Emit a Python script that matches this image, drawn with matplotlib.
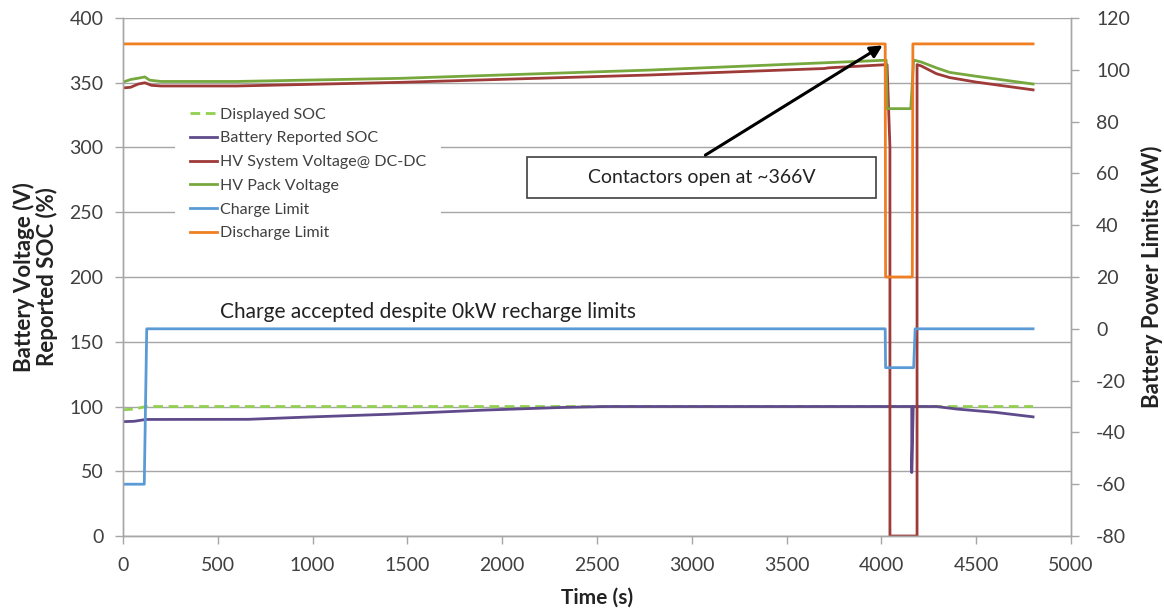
import matplotlib
matplotlib.use("Agg")
import matplotlib.pyplot as plt
from matplotlib.patches import Rectangle

plt.rcParams['font.family'] = ['Lato', 'DejaVu Sans']
plt.rcParams['axes.unicode_minus'] = False

# ---- data ----
# left axis: voltage / SOC
soc_disp_t = [0, 60, 120, 4800]
soc_disp_v = [97.5, 98, 100, 100]

soc_batt_t = [0, 60, 120, 660, 1000, 1400, 1900, 2300, 2550, 4160, 4160, 4168, 4290, 4400, 4600, 4800]
soc_batt_v = [88.3, 88.6, 90, 90.1, 92, 94, 97.2, 99.2, 100, 100, 49, 100, 100, 98, 95.5, 92]

hv_sys_t = [0, 40, 80, 115, 150, 200, 600, 1461, 2780, 3700, 3720, 4030, 4045, 4045, 4188, 4188, 4210, 4290, 4360, 4500, 4650, 4800]
hv_sys_v = [346, 346.5, 349, 350, 348, 347.5, 347.5, 350.3, 356, 361, 361.5, 364, 300, 0, 0, 364, 363, 357, 354, 350.5, 347.5, 344.5]

hv_pack_t = [0, 40, 80, 115, 140, 200, 600, 1461, 2780, 4008, 4025, 4030, 4155, 4170, 4210, 4290, 4360, 4500, 4650, 4800]
hv_pack_v = [350.5, 352.5, 353.5, 354.5, 352, 351, 351, 353.4, 359.8, 367.3, 367.5, 330, 330, 367.5, 366, 361.5, 358, 355, 352, 349]

# right axis: power limits (kW)
chg_t = [0, 112, 125, 4020, 4022, 4170, 4178, 4800]
chg_v = [-60, -60, 0, 0, -15, -15, 0, 0]

dis_t = [0, 4020, 4022, 4163, 4166, 4800]
dis_v = [110, 110, 20, 20, 110, 110]

x_ticks = [0, 500, 1000, 1500, 2000, 2500, 3000, 3500, 4000, 4500, 5000]
left_ticks = [0, 50, 100, 150, 200, 250, 300, 350, 400]
right_ticks = [-80, -60, -40, -20, 0, 20, 40, 60, 80, 100, 120]

c_disp = '#92D050'
c_batt = '#5F4B8B'
c_sys = '#9E3A38'
c_pack = '#77A83E'
c_chg = '#5B9BD5'
c_dis = '#F07F22'
c_axis = '#A6A6A6'
c_text = '#404040'

fig = plt.figure(figsize=(11.64, 6.10), dpi=100)
ax = fig.add_axes([0.1057, 0.1213, 0.8144, 0.8492])
ax2 = ax.twinx()

lw = 2.0
ax.plot(soc_disp_t, soc_disp_v, color=c_disp, lw=lw, ls=(0, (3.5, 2)), label='Displayed SOC')
ax.plot(soc_batt_t, soc_batt_v, color=c_batt, lw=lw, label='Battery Reported SOC')
ax.plot(hv_sys_t, hv_sys_v, color=c_sys, lw=lw, label='HV System Voltage@ DC-DC')
ax.plot(hv_pack_t, hv_pack_v, color=c_pack, lw=lw, label='HV Pack Voltage')
ax2.plot(chg_t, chg_v, color=c_chg, lw=lw, label='Charge Limit')
ax2.plot(dis_t, dis_v, color=c_dis, lw=lw, label='Discharge Limit')

ax.set_xlim(0, 5000)
ax.set_ylim(0, 400)
ax2.set_ylim(-80, 120)
ax.set_xticks(x_ticks)
ax.set_yticks(left_ticks)
ax2.set_yticks(right_ticks)

ax.grid(axis='y', color=c_axis, lw=1)
ax.set_axisbelow(True)

for a in (ax, ax2):
    a.spines['top'].set_visible(False)
    for s in ('left', 'right', 'bottom'):
        a.spines[s].set_color(c_axis)
        a.spines[s].set_linewidth(1)
    a.tick_params(colors=c_axis, labelcolor=c_text, labelsize=14, length=6, width=1)
ax.tick_params(axis='x', pad=9)
ax.tick_params(axis='y', pad=8)
ax2.tick_params(axis='y', pad=12)

ax.set_xlabel('Time (s)', fontsize=15, fontweight='bold', color='#222222', labelpad=10)
ax.set_ylabel('Battery Voltage (V)\nReported SOC (%)', fontsize=16, fontweight='bold',
              color='#222222', labelpad=8, linespacing=1.05)
ax2.set_ylabel('Battery Power Limits (kW)', fontsize=16, fontweight='bold', color='#222222', labelpad=8)

# legend with white background, no frame line
h1, l1 = ax.get_legend_handles_labels()
h2, l2 = ax2.get_legend_handles_labels()
leg = ax2.legend(h1 + h2, l1 + l2, loc='upper left', bbox_to_anchor=(0.055, 0.855),
                 fontsize=11.5, frameon=True, fancybox=False, edgecolor='none',
                 facecolor='white', framealpha=1, handlelength=1.7, handletextpad=0.2,
                 labelspacing=0.6, borderpad=0.9, borderaxespad=0)
for t in leg.get_texts():
    t.set_color(c_text)

# annotations
ax.text(512, 173, 'Charge accepted despite 0kW recharge limits', fontsize=15,
        color='#222222', va='center', ha='left')

ax.add_patch(Rectangle((2130, 261), 1842, 32, fill=True, facecolor='white',
                       edgecolor='#404040', lw=1.2, zorder=5))
ax.text(3051, 277, 'Contactors open at ~366V', fontsize=14, color='#222222',
        va='center', ha='center', zorder=6)
ax.annotate('', xy=(4019, 380), xytext=(3059, 293),
            arrowprops=dict(arrowstyle='-|>', color='black', lw=2.2, mutation_scale=18),
            zorder=6)

fig.savefig('out.png', dpi=100)
